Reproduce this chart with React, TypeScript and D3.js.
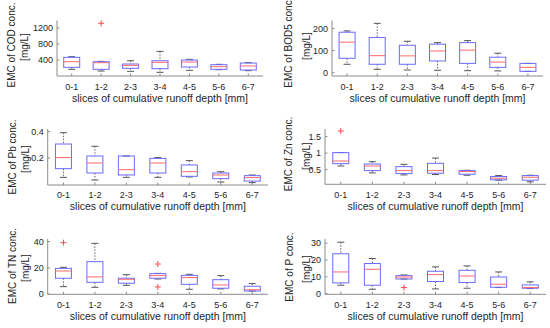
import React from 'react';
import * as d3 from 'd3';

const slices = ['0-1', '1-2', '2-3', '3-4', '4-5', '5-6', '6-7'];

// per slice: [lower whisker, q1, median, q3, upper whisker]
const codStats = [
  [167, 217, 358, 467, 483],
  [125, 167, 333, 358, 367],
  [117, 192, 267, 300, 383],
  [92, 183, 342, 383, 617],
  [142, 225, 350, 400, 417],
  [158, 167, 233, 283, 292],
  [133, 150, 250, 325, 333],
];
const codOutliers = [[1, 1320]];

const bodStats = [
  [38, 65, 138, 183, 189],
  [15, 38, 77, 159, 223],
  [12, 38, 76, 124, 142],
  [11, 53, 98, 129, 136],
  [9, 42, 102, 136, 145],
  [8, 24, 48, 70, 88],
  [6, 6, 24, 42, 42],
];
const bodOutliers: number[][] = [];

const pbStats = [
  [0.053, 0.119, 0.203, 0.306, 0.392],
  [0.033, 0.086, 0.162, 0.215, 0.289],
  [0.053, 0.071, 0.111, 0.215, 0.215],
  [0.053, 0.086, 0.162, 0.197, 0.203],
  [0.056, 0.061, 0.096, 0.147, 0.18],
  [0.018, 0.043, 0.071, 0.086, 0.096],
  [0.013, 0.025, 0.051, 0.066, 0.071],
];
const pbOutliers: number[][] = [];

const znStats = [
  [0.61, 0.68, 0.76, 1.015, 1.015],
  [0.4, 0.47, 0.61, 0.67, 0.74],
  [0.34, 0.38, 0.47, 0.59, 0.66],
  [0.35, 0.39, 0.47, 0.69, 0.85],
  [0.33, 0.36, 0.44, 0.47, 0.48],
  [0.18, 0.19, 0.24, 0.29, 0.32],
  [0.13, 0.18, 0.27, 0.32, 0.33],
];
const znOutliers = [[0, 1.67]];

const tnStats = [
  [5.8, 12.2, 17.7, 19.7, 20.5],
  [5.3, 9.1, 13.2, 24.8, 38.7],
  [6.8, 8.4, 11.4, 12.2, 14.9],
  [11.6, 12.2, 14.2, 15.7, 15.9],
  [3.8, 7.6, 12.7, 14.4, 15.2],
  [4.1, 4.6, 7.1, 11.1, 14.2],
  [2.5, 2.5, 3.5, 6.1, 8.1],
];
const tnOutliers = [[0, 39.2], [3, 23.0], [3, 5.6]];

const pStats = [
  [5.0, 6.4, 12.9, 23.7, 30.6],
  [2.6, 5.0, 14.5, 17.9, 20.9],
  [8.7, 8.7, 9.9, 10.7, 11.1],
  [2.8, 7.2, 11.3, 13.3, 15.9],
  [3.2, 6.6, 10.5, 13.9, 16.5],
  [3.6, 3.8, 5.6, 9.9, 12.9],
  [3.0, 3.2, 3.6, 5.2, 7.0],
];
const pOutliers = [[2, 3.6]];

const panels = [
  { label: 'EMC of COD conc.', stats: codStats, outliers: codOutliers, domain: [0, 1390], ticks: [400, 800, 1200],
    x0: 57, x1: 263, y0: 20.5, y1: 76, lx: [11.5, 24.5], ly: 45, tickY: 87, titleY: 98 },
  { label: 'EMC of BOD5 conc', stats: bodStats, outliers: bodOutliers, domain: [-15, 236], ticks: [0, 100, 200],
    x0: 332, x1: 543, y0: 20.5, y1: 76, lx: [288, 306], ly: 44, tickY: 87, titleY: 98 },
  { label: 'EMC of Pb conc.', stats: pbStats, outliers: pbOutliers, domain: [-0.005, 0.42], ticks: [0.2, 0.4],
    x0: 47.7, x1: 268, y0: 129, y1: 185, lx: [12, 25], ly: 157, tickY: 195, titleY: 206 },
  { label: 'EMC of Zn conc.', stats: znStats, outliers: znOutliers, domain: [0.055, 1.73], ticks: [0.5, 1, 1.5],
    x0: 325, x1: 546, y0: 129, y1: 184.3, lx: [288, 306], ly: 154, tickY: 195, titleY: 206 },
  { label: 'EMC of TN conc.', stats: tnStats, outliers: tnOutliers, domain: [0, 42], ticks: [0, 20, 40],
    x0: 47.7, x1: 268, y0: 239, y1: 294.3, lx: [12, 25], ly: 266, tickY: 305, titleY: 316 },
  { label: 'EMC of P conc.', stats: pStats, outliers: pOutliers, domain: [-0.4, 32.5], ticks: [0, 10, 20, 30],
    x0: 325, x1: 546, y0: 239, y1: 294.3, lx: [289, 306], ly: 267, tickY: 305, titleY: 316 },
];

const font = 'Liberation Sans, Arial, Helvetica, sans-serif';
const textColor = '#262626';
const axisColor = '#8c8c8c';

function Panel({ p }: { p: typeof panels[number] }) {
  const x = d3.scaleBand().domain(slices).range([p.x0, p.x1]);
  const y = d3.scaleLinear().domain(p.domain).range([p.y1, p.y0]);
  const bw = 16;
  const cw = 7;
  return (
    <g>
      {/* axes */}
      <line x1={p.x0} x2={p.x0} y1={p.y0} y2={p.y1} stroke={axisColor} />
      <line x1={p.x0} x2={p.x1} y1={p.y1} y2={p.y1} stroke={axisColor} />
      {p.ticks.map((t) => (
        <g key={t}>
          <line x1={p.x0} x2={p.x0 + 2.5} y1={y(t)} y2={y(t)} stroke={axisColor} />
          <text x={p.x0 - 4} y={y(t)} dy="0.35em" textAnchor="end" fontSize={9} fill={textColor}>
            {String(t)}
          </text>
        </g>
      ))}
      {slices.map((s) => {
        const cx = x(s)! + x.bandwidth() / 2;
        return (
          <g key={s}>
            <line x1={cx} x2={cx} y1={p.y1} y2={p.y1 - 2.5} stroke={axisColor} />
            <text x={cx} y={p.tickY} dy="0.35em" textAnchor="middle" fontSize={9} fill={textColor}>
              {s}
            </text>
          </g>
        );
      })}
      <text x={(p.x0 + p.x1) / 2} y={p.titleY} dy="0.35em" textAnchor="middle" fontSize={10.5} fill={textColor}>
        slices of cumulative runoff depth [mm]
      </text>
      <text transform={`translate(${p.lx[0]},${p.ly}) rotate(-90)`} dy="0.35em" textAnchor="middle" fontSize={10} fill={textColor}>
        {p.label}
      </text>
      <text transform={`translate(${p.lx[1]},${p.ly + 2}) rotate(-90)`} dy="0.35em" textAnchor="middle" fontSize={10} fill={textColor}>
        [mg/L]
      </text>
      {/* boxes */}
      {p.stats.map((d, i) => {
        const cx = x(slices[i])! + x.bandwidth() / 2;
        const [lo, q1, med, q3, hi] = d;
        return (
          <g key={i}>
            <line x1={cx} x2={cx} y1={y(hi)} y2={y(q3)} stroke="#666" strokeDasharray="1.5,1.5" />
            <line x1={cx} x2={cx} y1={y(q1)} y2={y(lo)} stroke="#666" strokeDasharray="1.5,1.5" />
            <line x1={cx - cw / 2} x2={cx + cw / 2} y1={y(hi)} y2={y(hi)} stroke="#555" />
            <line x1={cx - cw / 2} x2={cx + cw / 2} y1={y(lo)} y2={y(lo)} stroke="#555" />
            <rect x={cx - bw / 2} y={y(q3)} width={bw} height={Math.max(0.5, y(q1) - y(q3))} fill="none" stroke="#6a6aff" />
            <line x1={cx - bw / 2} x2={cx + bw / 2} y1={y(med)} y2={y(med)} stroke="#ff6a6a" />
          </g>
        );
      })}
      {p.outliers.map(([i, v], k) => {
        const cx = x(slices[i])! + x.bandwidth() / 2;
        const cy = y(v);
        return (
          <g key={k} stroke="#ff4a4a">
            <line x1={cx - 3} x2={cx + 3} y1={cy} y2={cy} />
            <line x1={cx} x2={cx} y1={cy - 3} y2={cy + 3} />
          </g>
        );
      })}
    </g>
  );
}

export default function App() {
  return (
    <svg width={550} height={328} style={{ position: 'absolute', left: 0, top: 0, background: '#fff' }} fontFamily={font}>
      {panels.map((p) => (
        <Panel key={p.label} p={p} />
      ))}
    </svg>
  );
}
